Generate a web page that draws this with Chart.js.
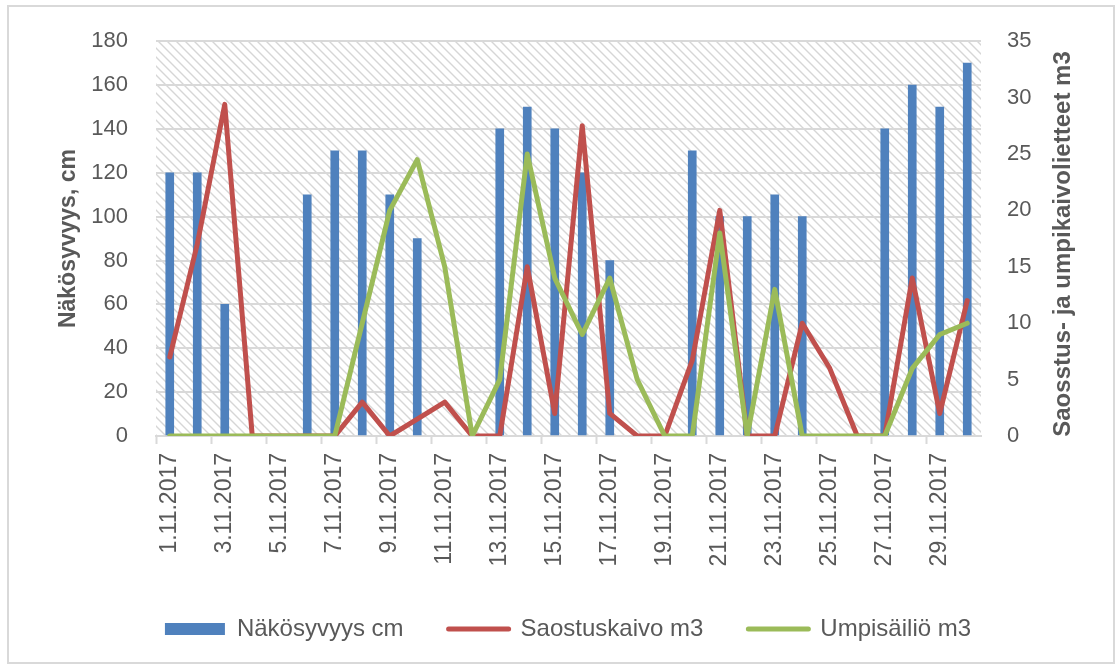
<!DOCTYPE html>
<html>
<head>
<meta charset="utf-8">
<script src="https://cdn.jsdelivr.net/npm/chart.js@4.4.1/dist/chart.umd.min.js"></script>
<style>
  html, body { margin: 0; padding: 0; background: #ffffff; }
  #wrap { width: 1116px; height: 668px; position: relative; }
</style>
</head>
<body>
<div id="wrap"><canvas id="c" width="1116" height="668"></canvas></div>
<script>
// Päivät (marraskuu 2017)
const days = [
  '1.11.2017', '2.11.2017', '3.11.2017', '4.11.2017', '5.11.2017',
  '6.11.2017', '7.11.2017', '8.11.2017', '9.11.2017', '10.11.2017',
  '11.11.2017', '12.11.2017', '13.11.2017', '14.11.2017', '15.11.2017',
  '16.11.2017', '17.11.2017', '18.11.2017', '19.11.2017', '20.11.2017',
  '21.11.2017', '22.11.2017', '23.11.2017', '24.11.2017', '25.11.2017',
  '26.11.2017', '27.11.2017', '28.11.2017', '29.11.2017', '30.11.2017'
];

// Näkösyvyys, cm (vasen akseli)
const nakosyvyys = [120, 120, 60, null, null, 110, 130, 130, 110, 90,
                    null, null, 140, 150, 140, 120, 80, null, null, 130,
                    100, 100, 110, 100, null, null, 140, 160, 150, 170];

// Saostuskaivo, m3 (oikea akseli)
const saostuskaivo = [7, 17, 29.4, 0, 0, 0, 0, 3, 0, 1.5,
                      3, 0, 0, 15, 2, 27.5, 2, 0, 0, 6.7,
                      20, 0, 0, 10, 6, 0, 0, 14, 2, 12];

// Umpisäiliö, m3 (oikea akseli)
const umpisailio = [0, 0, 0, 0, 0, 0, 0, 10, 20, 24.5,
                    15, 0, 5, 25, 14, 9, 14, 5, 0, 0,
                    18, 0, 13, 0, 0, 0, 0, 6, 9, 10];

// Akselien asteikot
const leftAxisMax = 180;
const leftAxisStep = 20;
const rightAxisMax = 35;
const rightAxisStep = 5;

const seriesNames = ['Näkösyvyys cm', 'Saostuskaivo m3', 'Umpisäiliö m3'];
const leftTitle = 'Näkösyvyys, cm';
const rightTitle = 'Saosstus- ja umpikaivolietteet m3';

const TEXT = '#595959';
const GRID = '#d9d9d9';
const FONT = "'Liberation Sans', Arial, sans-serif";
const LINE_W = 5;

// Vinoviivarasteri piirtoalueen taustaksi
function makeHatch() {
  const t = document.createElement('canvas');
  const s = 9;
  t.width = s; t.height = s;
  const g = t.getContext('2d');
  g.fillStyle = '#ffffff';
  g.fillRect(0, 0, s, s);
  g.strokeStyle = '#d6d6d6';
  g.lineWidth = 1.4;
  g.beginPath();
  g.moveTo(-1, -1); g.lineTo(s + 1, s + 1);
  g.moveTo(-1, s - 1); g.lineTo(1, s + 1);
  g.moveTo(s - 1, -1); g.lineTo(s + 1, 1);
  g.stroke();
  return t;
}
const hatchTile = makeHatch();

const decorPlugin = {
  id: 'decor',
  beforeLayout(chart) {
    const lg = chart.legend;
    if (lg && !lg._fixedFit) {
      const orig = lg.fit;
      lg.fit = function () { orig.call(this); this.height = 96; };
      lg._fixedFit = true;
    }
  },
  beforeDraw(chart) {
    const { ctx, chartArea: a } = chart;
    ctx.save();
    ctx.fillStyle = '#ffffff';
    ctx.fillRect(0, 0, chart.width, chart.height);
    ctx.fillStyle = ctx.createPattern(hatchTile, 'repeat');
    ctx.fillRect(a.left, a.top, a.right - a.left, a.bottom - a.top);
    ctx.restore();
  },
  afterDraw(chart) {
    const { ctx } = chart;
    ctx.save();
    // oikean akselin otsikko, luetaan alhaalta ylös
    ctx.translate(1063, 244);
    ctx.rotate(-Math.PI / 2);
    ctx.fillStyle = TEXT;
    ctx.font = "bold 24px " + FONT;
    ctx.textAlign = 'center';
    ctx.textBaseline = 'middle';
    ctx.fillText(rightTitle, 0, 0);
    ctx.restore();
    // kaavion kehys
    ctx.save();
    ctx.strokeStyle = GRID;
    ctx.lineWidth = 2;
    ctx.strokeRect(8, 6, 1106, 657);
    ctx.restore();
  }
};

new Chart(document.getElementById('c'), {
  data: {
    labels: days,
    datasets: [
      {
        type: 'bar',
        label: seriesNames[0],
        data: nakosyvyys,
        yAxisID: 'y',
        backgroundColor: '#4f81bd',
        borderWidth: 0,
        barThickness: 8,
        order: 3
      },
      {
        type: 'line',
        label: seriesNames[1],
        data: saostuskaivo,
        yAxisID: 'y1',
        borderColor: '#c0504d',
        backgroundColor: '#c0504d',
        borderWidth: LINE_W,
        borderJoinStyle: 'round',
        borderCapStyle: 'round',
        pointRadius: 0,
        tension: 0,
        order: 2
      },
      {
        type: 'line',
        label: seriesNames[2],
        data: umpisailio,
        yAxisID: 'y1',
        borderColor: '#9bbb59',
        backgroundColor: '#9bbb59',
        borderWidth: LINE_W,
        borderJoinStyle: 'round',
        borderCapStyle: 'round',
        pointRadius: 0,
        tension: 0,
        order: 1
      }
    ]
  },
  options: {
    responsive: false,
    animation: false,
    devicePixelRatio: 1,
    layout: { padding: { left: 40, right: 20, top: 40, bottom: 0 } },
    plugins: {
      tooltip: { enabled: false },
      legend: {
        position: 'bottom',
        labels: {
          color: TEXT,
          font: { family: FONT, size: 24 },
          usePointStyle: true,
          pointStyleWidth: 60,
          boxHeight: 12,
          padding: 45,
          sort: (a, b) => a.datasetIndex - b.datasetIndex,
          generateLabels(chart) {
            return chart.data.datasets.map((ds, i) => ({
              text: ds.label,
              datasetIndex: i,
              fillStyle: ds.type === 'bar' ? ds.backgroundColor : ds.borderColor,
              strokeStyle: ds.type === 'bar' ? ds.backgroundColor : ds.borderColor,
              lineWidth: ds.type === 'bar' ? 0 : LINE_W,
              lineCap: 'round',
              pointStyle: ds.type === 'bar' ? 'rect' : 'line',
              fontColor: TEXT,
              hidden: false
            }));
          }
        }
      }
    },
    scales: {
      x: {
        offset: true,
        grid: {
          offset: true,
          drawOnChartArea: false,
          drawTicks: true,
          tickLength: 8,
          tickWidth: 2,
          tickColor: (c) => (c.index % 2 === 0 ? GRID : 'rgba(0,0,0,0)')
        },
        border: { display: true, color: GRID, width: 2 },
        ticks: {
          autoSkip: false,
          minRotation: 90,
          maxRotation: 90,
          padding: 9,
          color: TEXT,
          font: { family: FONT, size: 23 },
          callback(value, index) { return index % 2 === 0 ? days[index] : ''; }
        },
        afterFit(s) { s.height = 136; }
      },
      y: {
        position: 'left',
        min: 0,
        max: leftAxisMax,
        grid: { color: GRID, lineWidth: 2, drawTicks: false },
        border: { display: false },
        ticks: {
          stepSize: leftAxisStep,
          padding: 28,
          color: TEXT,
          font: { family: FONT, size: 22 }
        },
        title: {
          display: true,
          text: leftTitle,
          color: TEXT,
          font: { family: FONT, size: 23, weight: 'bold' },
          padding: { top: 15, bottom: 0 }
        },
        afterFit(s) { s.width = 116; }
      },
      y1: {
        position: 'right',
        min: 0,
        max: rightAxisMax,
        grid: { drawOnChartArea: false, drawTicks: false },
        border: { display: false },
        ticks: {
          stepSize: rightAxisStep,
          padding: 26,
          color: TEXT,
          font: { family: FONT, size: 22 }
        },
        afterFit(s) { s.width = 115; }
      }
    }
  },
  plugins: [decorPlugin]
});
</script>
</body>
</html>
